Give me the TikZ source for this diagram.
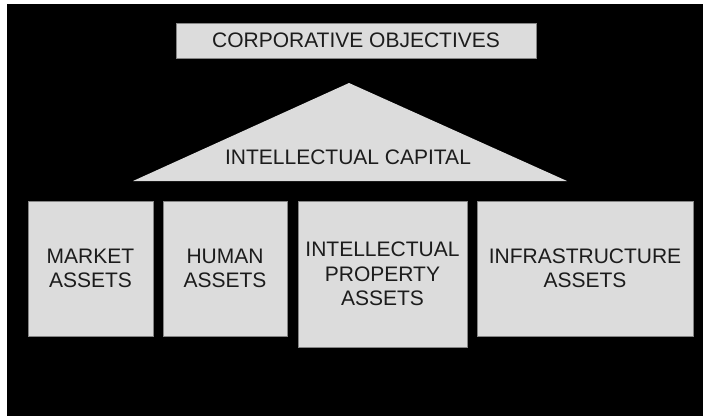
\documentclass[tikz,border=0pt]{standalone}
\usepackage{fontspec}
\setmainfont{Liberation Sans}
\usepackage{tikz}
\usetikzlibrary{positioning}
\definecolor{ICBack}{HTML}{000000}
\definecolor{ICFill}{HTML}{DCDCDC}
\definecolor{ICEdge}{HTML}{858585}
\definecolor{ICInk}{HTML}{1C1C1C}

\begin{document}
\begin{tikzpicture}[x=1pt,y=-1pt,font=\fontsize{21}{24.5}\selectfont,
    panel/.style={draw=ICEdge, line width=1pt, fill=ICFill, text=ICInk,
      align=center, inner sep=0pt},
    assetbox/.style={panel, minimum height=135pt}]
    \useasboundingbox (0,0) rectangle (703,416);
    \fill[white] (0,0) rectangle (703,416);
    \fill[ICBack] (7,4) rectangle (703,416);

    % objectives on top
    \node[panel, minimum width=360pt, minimum height=35pt] (goals) at (356,40.5)
      {CORPORATIVE OBJECTIVES};

    % roof of the house
    \coordinate (roofL) at (133,181);
    \coordinate (roofT) at (349,83);
    \coordinate (roofR) at (567,181);
    \fill[ICFill] (roofL) -- (roofT) -- (roofR) -- cycle;
    \node[text=ICInk] (capital) at (348,157) {INTELLECTUAL CAPITAL};

    % the four pillars
    \node[assetbox, minimum width=125pt] (market) at (90.5,268.5)
      {MARKET\\ASSETS};
    \node[assetbox, minimum width=124pt] (human) at (225,268.5)
      {HUMAN\\ASSETS};
    \node[assetbox, minimum width=169pt, minimum height=146pt] (property) at (382.5,274)
      {INTELLECTUAL\\PROPERTY\\ASSETS};
    \node[assetbox, minimum width=216pt] (infra) at (585,268.5)
      {INFRASTRUCTURE\\ASSETS};
  \end{tikzpicture}
\end{document}
